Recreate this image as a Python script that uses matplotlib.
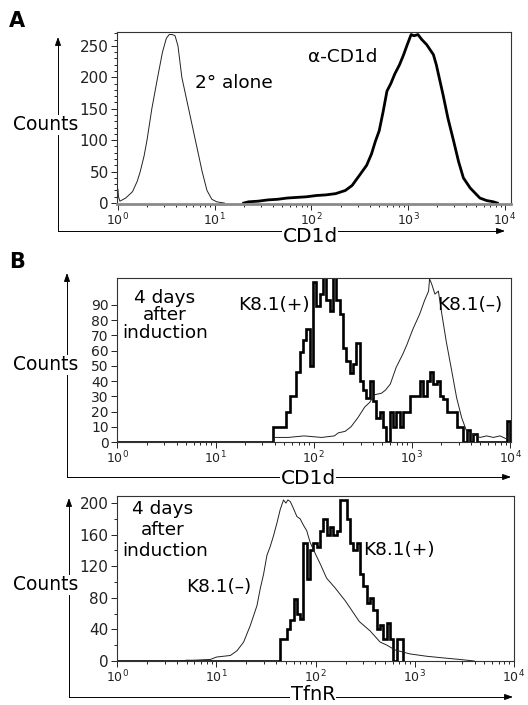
import numpy as np
import matplotlib
matplotlib.use('Agg')
import matplotlib.pyplot as plt
from matplotlib.ticker import LogLocator, MultipleLocator, NullFormatter, FixedLocator

plt.rcParams['font.family'] = ['DejaVu Sans']
plt.rcParams['mathtext.fontset'] = 'dejavusans'

# ---------------- data (log10 fluorescence, counts) ----------------
# Panel A
a_alone_log = [0.0, 0.005, 0.02, 0.08, 0.15, 0.20, 0.23, 0.27, 0.30, 0.35, 0.41, 0.46, 0.50,
               0.53, 0.56, 0.59, 0.62, 0.66, 0.73, 0.80, 0.87, 0.92, 0.97, 1.02, 1.10]
a_alone_counts = [22, 10, 3, 8, 18, 35, 50, 75, 100, 150, 200, 240, 262,
                  268, 268, 266, 250, 200, 150, 100, 50, 20, 6, 2, 0]
a_cd1d_log = [1.30, 1.35, 1.45, 1.55, 1.65, 1.75, 1.85, 1.95, 2.05, 2.15, 2.25, 2.35, 2.42, 2.50,
              2.57, 2.62, 2.66, 2.70, 2.74, 2.78, 2.82, 2.86, 2.91, 2.95, 2.99, 3.03, 3.06, 3.10,
              3.14, 3.19, 3.26, 3.29, 3.36, 3.41, 3.47, 3.52, 3.57, 3.64, 3.74, 3.81, 3.88, 3.92]
a_cd1d_counts = [0, 2, 3, 5, 6, 8, 9, 10, 12, 13, 15, 20, 28, 45,
                 60, 78, 98, 115, 145, 178, 190, 205, 220, 235, 252, 268, 266, 268,
                 260, 252, 236, 220, 172, 135, 98, 66, 40, 24, 8, 4, 2, 0]

# Panel B (CD1d) - K8.1(+) step histogram, channels from 10^1.585, width 0.034 decade
b1_pos_start, b1_pos_width = 1.585, 0.034
b1_pos_counts = [10, 10, 10, 10, 20, 30, 30, 46, 59, 67, 74, 50, 105, 89, 97, 110, 93, 86, 110, 93,
                 84, 62, 53, 45, 51, 65, 40, 34, 29, 40, 27, 16, 20, 10, 0, 20, 10, 20, 10, 20,
                 20, 30, 30, 30, 40, 30, 40, 46, 38, 40, 30, 28, 20, 20, 20, 10, 10, 0, 8, 0,
                 5, 0, 0, 0, 0, 0, 0, 0, 0, 0, 14]
# K8.1(-) thin
b1_neg_log = [1.585, 1.60, 1.74, 1.90, 2.08, 2.21, 2.25, 2.32, 2.38, 2.45, 2.52, 2.57, 2.62, 2.69,
              2.73, 2.78, 2.84, 2.91, 2.95, 3.01, 3.08, 3.13, 3.17, 3.18, 3.20, 3.235, 3.27, 3.30,
              3.35, 3.405, 3.456, 3.507, 3.558, 3.626, 3.694, 3.762, 3.83, 3.898, 3.966, 4.0]
b1_neg_counts = [0, 3, 3, 4, 3, 4, 6, 7, 10, 16, 23, 26, 31, 32,
                 34, 38, 49, 58, 64, 74, 84, 93, 99, 107, 104, 97, 99, 86,
                 66, 47, 29, 16, 7, 5, 3, 4, 3, 4, 2, 6]

# Panel B (TfnR) - K8.1(+) step histogram, channels from 10^1.643, width 0.0335 decade
b2_pos_start, b2_pos_width = 1.643, 0.0335
b2_pos_counts = [28, 28, 40, 52, 79, 60, 53, 150, 104, 140, 150, 145, 165, 180, 160, 170, 160, 165,
                 204, 204, 180, 150, 140, 150, 110, 95, 74, 80, 65, 41, 45, 28, 48, 28, 0, 28, 28]
b2_neg_log = [0.637, 0.70, 0.77, 0.94, 1.0, 1.14, 1.207, 1.274, 1.341, 1.408, 1.442, 1.475, 1.509,
              1.542, 1.576, 1.61, 1.643, 1.676, 1.70, 1.72, 1.744, 1.77, 1.811, 1.844, 1.877, 1.91,
              1.945, 2.0, 2.05, 2.11, 2.2, 2.3, 2.44, 2.55, 2.65, 2.72, 2.8, 2.95, 3.12, 3.28,
              3.45, 3.6]
b2_neg_counts = [0, 1, 1, 2, 5, 7, 13, 24, 45, 70, 92, 110, 134,
                 145, 159, 175, 192, 204, 200, 204, 202, 195, 183, 180, 172, 165,
                 150, 135, 122, 105, 92, 76, 50, 38, 24, 20, 14, 9, 6, 4,
                 2, 0]

a_yticks = [0, 50, 100, 150, 200, 250]
b1_yticks = [0, 10, 20, 30, 40, 50, 60, 70, 80, 90]
b2_yticks = [0, 40, 80, 120, 160, 200]
x_decades = [0, 1, 2, 3, 4]

# ---------------- figure ----------------
W, H = 528, 705
fig = plt.figure(figsize=(W / 100, H / 100), dpi=100)


def ax_px(l, t, r, b):
    return fig.add_axes([l / W, 1 - b / H, (r - l) / W, (b - t) / H])


def style(ax, xlo, xhi, ylo, yhi, yticks, yminor, ysize):
    ax.set_xscale('log')
    ax.set_xlim(10 ** xlo, 10 ** xhi)
    ax.set_ylim(ylo, yhi)
    ax.xaxis.set_major_locator(FixedLocator([10.0 ** d for d in x_decades]))
    ax.xaxis.set_minor_locator(LogLocator(base=10, subs=np.arange(2, 10), numticks=20))
    ax.xaxis.set_minor_formatter(NullFormatter())
    ax.set_xticklabels([r'$10^{%d}$' % d for d in x_decades])
    ax.set_yticks(yticks)
    if yminor:
        ax.yaxis.set_minor_locator(MultipleLocator(yminor))
    ax.tick_params(which='both', direction='out', width=0.7, colors='#222',
                   top=False, right=False)
    ax.tick_params(axis='x', labelsize=9, pad=1.5)
    ax.tick_params(axis='y', labelsize=ysize, pad=2)
    ax.tick_params(which='major', length=4)
    ax.tick_params(which='minor', length=2.5)
    for s in ax.spines.values():
        s.set_linewidth(0.8)
        s.set_color('#333')


def steps(ax, start, width, counts, lw):
    edges = 10 ** (start + width * np.arange(len(counts) + 1))
    edges = np.concatenate([[1.0], edges])
    vals = np.concatenate([[0], counts])
    ax.stairs(vals, edges, baseline=0, color='black', lw=lw)


THIN = dict(color='#222', lw=0.7)

# Panel A
axA = ax_px(117, 32, 511, 204)
style(axA, -0.01, 4.062, -1.5, 272, a_yticks, 10, 11)
axA.spines['bottom'].set_color('#8a8a8a')
axA.spines['bottom'].set_linewidth(2.0)
axA.plot(10 ** np.array(a_alone_log), a_alone_counts, **THIN)
axA.plot(10 ** np.array(a_cd1d_log), a_cd1d_counts, color='black', lw=2.0)

# Panel B top
axB1 = ax_px(117, 278, 511, 442)
style(axB1, -0.005, 4.01, 0, 107.6, b1_yticks, None, 10)
axB1.plot(10 ** np.array(b1_neg_log), b1_neg_counts, **THIN)
steps(axB1, b1_pos_start, b1_pos_width, b1_pos_counts, 1.9)

# Panel B bottom
axB2 = ax_px(117, 496, 514, 661)
style(axB2, -0.003, 4.0, 0, 209, b2_yticks, 20, 11)
axB2.plot(10 ** np.array(b2_neg_log), b2_neg_counts, **THIN)
steps(axB2, b2_pos_start, b2_pos_width, b2_pos_counts, 1.9)


# ---------------- outer arrows & labels ----------------
def P(x, y):
    return (x, H - y)


def arrow_axes(xv, ytop, ycorner, xright):
    kw = dict(xycoords='figure pixels', textcoords='figure pixels',
              arrowprops=dict(arrowstyle='-|>,head_length=0.5,head_width=0.18',
                              color='black', lw=0.7, shrinkA=0, shrinkB=0))
    fig.add_artist(plt.Line2D([xv / W, xv / W], [1 - ycorner / H, 1 - (ytop + 6) / H],
                              transform=fig.transFigure, color='black', lw=0.7))
    fig.add_artist(plt.Line2D([xv / W, (xright - 6) / W], [1 - ycorner / H, 1 - ycorner / H],
                              transform=fig.transFigure, color='black', lw=0.7))
    plt.annotate('', xy=P(xv, ytop), xytext=P(xv, ytop + 8), **kw)
    plt.annotate('', xy=P(xright, ycorner), xytext=P(xright - 8, ycorner), **kw)


arrow_axes(58, 37, 231, 505)
arrow_axes(67, 273, 477, 511)
arrow_axes(69, 498, 697, 513)

BOX = dict(facecolor='white', edgecolor='none', pad=0.5)


def ftext(x, y, s, size, **kw):
    fig.text(x / W, 1 - y / H, s, fontsize=size, ha='center', va='center', **kw)


ftext(46, 125, 'Counts', 13.4, bbox=BOX)
ftext(46, 365, 'Counts', 13.4, bbox=BOX)
ftext(46, 585, 'Counts', 13.4, bbox=BOX)
ftext(310, 237, 'CD1d', 14.5, bbox=BOX)
ftext(308, 479, 'CD1d', 14.5, bbox=BOX)
ftext(313, 695, 'TfnR', 14, bbox=BOX)

ftext(17, 21, 'A', 15, fontweight='bold')
ftext(17, 262, 'B', 15, fontweight='bold')

ftext(234, 83, '2° alone', 13.3)
ftext(343, 57, 'α-CD1d', 13.3)

ftext(165, 298, '4 days', 13.3)
ftext(165, 315, 'after', 13.3)
ftext(165, 333, 'induction', 13.3)
ftext(274, 305, 'K8.1(+)', 13.3)
ftext(470, 305, 'K8.1(–)', 13.3)

ftext(163, 509, '4 days', 13.3)
ftext(163, 530, 'after', 13.3)
ftext(165, 551, 'induction', 13.3)
ftext(219, 587, 'K8.1(–)', 13.3)
ftext(399, 550, 'K8.1(+)', 13.3)

fig.savefig('out.png', dpi=100)
